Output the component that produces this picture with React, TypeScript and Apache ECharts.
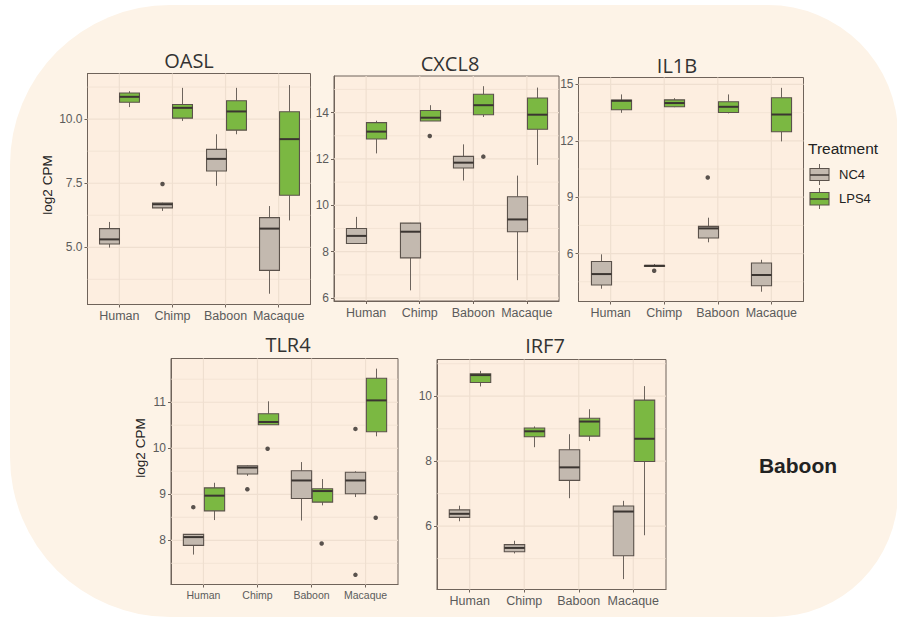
import React, { useEffect, useRef } from "react";
import * as echarts from "echarts";

// ---- categories, groups and labels ----
const categories = ["Human", "Chimp", "Baboon", "Macaque"];
const treatments = ["NC4", "LPS4"];
const genes = ["OASL", "CXCL8", "IL1B", "TLR4", "IRF7"];

// ---- box statistics: [lower whisker, Q1, median, Q3, upper whisker] per species ----
const oaslNc4 = [
  [4.99, 5.13, 5.31, 5.73, 5.99],
  [6.42, 6.54, 6.68, 6.73, 6.74],
  [7.4, 7.98, 8.45, 8.82, 9.41],
  [3.19, 4.1, 5.73, 6.16, 6.61],
];
const oaslLps4 = [
  [10.47, 10.66, 10.87, 11.02, 11.09],
  [9.93, 10.04, 10.44, 10.57, 11.22],
  [9.41, 9.57, 10.3, 10.72, 11.22],
  [6.05, 7.03, 9.22, 10.29, 11.33],
];
const oaslNc4Out = [[1, 7.47]];
const oaslLps4Out: number[][] = [];

const cxcl8Nc4 = [
  [8.35, 8.35, 8.68, 9.0, 9.5],
  [6.33, 7.73, 8.86, 9.23, 9.24],
  [11.07, 11.61, 11.84, 12.11, 12.63],
  [6.77, 8.86, 9.39, 10.37, 11.28],
];
const cxcl8Lps4 = [
  [12.24, 12.86, 13.18, 13.57, 13.65],
  [13.64, 13.64, 13.78, 14.09, 14.32],
  [13.81, 13.91, 14.32, 14.79, 15.14],
  [11.74, 13.28, 13.91, 14.63, 15.08],
];
const cxcl8Nc4Out: number[][] = [];
const cxcl8Lps4Out = [
  [1, 12.99],
  [2, 12.1],
];

const il1bNc4 = [
  [4.13, 4.33, 4.91, 5.58, 5.96],
  [5.32, 5.32, 5.35, 5.37, 5.44],
  [6.6, 6.83, 7.34, 7.45, 7.91],
  [3.97, 4.29, 4.86, 5.5, 5.67],
];
const il1bLps4 = [
  [13.49, 13.65, 14.13, 14.17, 14.47],
  [13.79, 13.81, 14.01, 14.18, 14.27],
  [13.46, 13.51, 13.81, 14.08, 14.47],
  [11.97, 12.48, 13.4, 14.29, 14.82],
];
const il1bNc4Out = [
  [1, 5.09],
  [2, 10.05],
];
const il1bLps4Out: number[][] = [];

const tlr4Nc4 = [
  [7.69, 7.89, 8.07, 8.13, 8.13],
  [9.4, 9.44, 9.58, 9.62, 9.63],
  [8.43, 8.91, 9.3, 9.51, 9.7],
  [8.94, 9.01, 9.3, 9.48, 9.5],
];
const tlr4Lps4 = [
  [8.44, 8.64, 8.97, 9.14, 9.25],
  [10.51, 10.51, 10.57, 10.75, 11.02],
  [8.76, 8.83, 9.07, 9.12, 9.33],
  [10.26, 10.36, 11.04, 11.52, 11.73],
];
const tlr4Nc4Out = [
  [0, 8.72],
  [1, 9.11],
  [3, 10.42],
  [3, 7.25],
];
const tlr4Lps4Out = [
  [1, 9.99],
  [2, 7.93],
  [3, 8.49],
];

const irf7Nc4 = [
  [6.15, 6.27, 6.38, 6.5, 6.63],
  [5.16, 5.21, 5.33, 5.43, 5.55],
  [6.86, 7.41, 7.81, 8.35, 8.83],
  [4.37, 5.09, 6.45, 6.62, 6.78],
];
const irf7Lps4 = [
  [10.3, 10.42, 10.65, 10.69, 10.78],
  [8.43, 8.75, 8.92, 9.02, 9.07],
  [8.62, 8.77, 9.22, 9.32, 9.6],
  [5.72, 7.99, 8.69, 9.88, 10.31],
];
const irf7Nc4Out: number[][] = [];
const irf7Lps4Out: number[][] = [];

// ---- y axis ticks (labelled) and minor breaks ----
const oaslTicks = [5, 7.5, 10];
const oaslMinor = [3.75, 6.25, 8.75, 11.25];
const cxcl8Ticks = [6, 8, 10, 12, 14];
const cxcl8Minor = [7, 9, 11, 13, 15];
const il1bTicks = [6, 9, 12, 15];
const il1bMinor = [4.5, 7.5, 10.5, 13.5];
const tlr4Ticks = [8, 9, 10, 11];
const tlr4Minor = [7.5, 8.5, 9.5, 10.5, 11.5];
const irf7Ticks = [6, 8, 10];
const irf7Minor = [5, 7, 9, 11];

// ---- y axis limits ----
const oaslRange = [2.77, 11.78];
const cxcl8Range = [5.87, 15.58];
const il1bRange = [3.45, 15.37];
const tlr4Range = [7.04, 11.95];
const irf7Range = [4.05, 11.13];

type Panel = {
  nc4: number[][];
  lps4: number[][];
  nc4Out: number[][];
  lps4Out: number[][];
  ticks: number[];
  minor: number[];
  range: number[];
  decimals: number;
  // layout
  left: number;
  top: number;
  width: number;
  height: number;
  titleX: number;
  titleY: number;
  xFont: number;
  yName?: [number, number];
};

const panels: Panel[] = [
  { nc4: oaslNc4, lps4: oaslLps4, nc4Out: oaslNc4Out, lps4Out: oaslLps4Out, ticks: oaslTicks, minor: oaslMinor, range: oaslRange, decimals: 1,
    left: 87.5, top: 73.5, width: 223, height: 231, titleX: 189, titleY: 60, xFont: 12.5, yName: [47, 185] },
  { nc4: cxcl8Nc4, lps4: cxcl8Lps4, nc4Out: cxcl8Nc4Out, lps4Out: cxcl8Lps4Out, ticks: cxcl8Ticks, minor: cxcl8Minor, range: cxcl8Range, decimals: 0,
    left: 334, top: 76, width: 225, height: 225, titleX: 450, titleY: 63, xFont: 12.5 },
  { nc4: il1bNc4, lps4: il1bLps4, nc4Out: il1bNc4Out, lps4Out: il1bLps4Out, ticks: il1bTicks, minor: il1bMinor, range: il1bRange, decimals: 0,
    left: 578.5, top: 77.5, width: 225, height: 224, titleX: 677, titleY: 65, xFont: 12.5 },
  { nc4: tlr4Nc4, lps4: tlr4Lps4, nc4Out: tlr4Nc4Out, lps4Out: tlr4Lps4Out, ticks: tlr4Ticks, minor: tlr4Minor, range: tlr4Range, decimals: 0,
    left: 171, top: 358.5, width: 227, height: 226, titleX: 288, titleY: 344, xFont: 10.5, yName: [140, 448] },
  { nc4: irf7Nc4, lps4: irf7Lps4, nc4Out: irf7Nc4Out, lps4Out: irf7Lps4Out, ticks: irf7Ticks, minor: irf7Minor, range: irf7Range, decimals: 0,
    left: 437, top: 359.5, width: 229, height: 230, titleX: 545, titleY: 345, xFont: 12.5 },
];

const FILL = { NC4: "#c3b9af", LPS4: "#7bb842" };
const BOX_W = 0.375;
const DODGE = 0.1875;
const X_MIN = 0.4;
const X_MAX = 4.6;
const AXIS_COLOR = "#6f635a";
const GRID_COLOR = "#efdfd0";
const LABEL_FONT = "'Liberation Sans', Arial, sans-serif";
const TITLE_FONT = "'Open Sans', 'Noto Sans', sans-serif";

function boxRenderer(fill: string) {
  return (params: any, api: any) => {
    const x = api.value(0);
    const lo = api.coord([x, api.value(1)]);
    const q1 = api.coord([x, api.value(2)]);
    const med = api.coord([x, api.value(3)]);
    const q3 = api.coord([x, api.value(4)]);
    const hi = api.coord([x, api.value(5)]);
    const w = api.size([BOX_W, 0])[0];
    const cx = Math.round(lo[0]) + 0.5;
    const whisker = { stroke: "#6d645d", lineWidth: 1 };
    return {
      type: "group",
      children: [
        { type: "line", shape: { x1: cx, y1: hi[1], x2: cx, y2: q3[1] }, style: whisker },
        { type: "line", shape: { x1: cx, y1: q1[1], x2: cx, y2: lo[1] }, style: whisker },
        {
          type: "rect",
          shape: { x: cx - w / 2, y: q3[1], width: w, height: Math.max(q1[1] - q3[1], 1) },
          style: { fill, stroke: "#5b524b", lineWidth: 1.1 },
        },
        {
          type: "line",
          shape: { x1: cx - w / 2, y1: med[1], x2: cx + w / 2, y2: med[1] },
          style: { stroke: "#3b3531", lineWidth: 2 },
        },
      ],
    };
  };
}

// one datum per grid line: [orientation (0 = horizontal, 1 = vertical), value, weight]
function gridRenderer(range: number[]) {
  return (params: any, api: any) => {
    const dir = api.value(0);
    const v = api.value(1);
    const width = api.value(2);
    let a, b;
    if (dir === 0) {
      a = api.coord([X_MIN, v]);
      b = api.coord([X_MAX, v]);
    } else {
      a = api.coord([v, range[0]]);
      b = api.coord([v, range[1]]);
    }
    return {
      type: "line",
      shape: { x1: a[0], y1: a[1], x2: b[0], y2: b[1] },
      style: { stroke: GRID_COLOR, lineWidth: width },
    };
  };
}

function buildOption() {
  const grid: any[] = [];
  const xAxis: any[] = [];
  const yAxis: any[] = [];
  const series: any[] = [];
  const graphic: any[] = [];

  panels.forEach((p, k) => {
    grid.push({
      left: p.left,
      top: p.top,
      width: p.width,
      height: p.height,
      show: true,
      backgroundColor: "#fdeee0",
      borderColor: AXIS_COLOR,
      borderWidth: 1,
    });
    xAxis.push({
      gridIndex: k,
      type: "value",
      min: X_MIN,
      max: X_MAX,
      axisLine: { show: true, lineStyle: { color: AXIS_COLOR } },
      axisTick: { show: true, customValues: [1, 2, 3, 4], length: 3, lineStyle: { color: AXIS_COLOR } },
      axisLabel: {
        customValues: [1, 2, 3, 4],
        formatter: (v: number) => categories[Math.round(v) - 1],
        color: "#5b5b5b",
        fontSize: p.xFont,
        fontFamily: LABEL_FONT,
        margin: 5,
      },
      splitLine: { show: false },
    });
    yAxis.push({
      gridIndex: k,
      type: "value",
      min: p.range[0],
      max: p.range[1],
      axisLine: { show: true, lineStyle: { color: AXIS_COLOR } },
      axisTick: { show: true, customValues: p.ticks, length: 3, lineStyle: { color: AXIS_COLOR } },
      axisLabel: {
        customValues: p.ticks,
        formatter: (v: number) => v.toFixed(p.decimals),
        color: "#5b5b5b",
        fontSize: 12,
        fontFamily: LABEL_FONT,
        margin: 5,
      },
      splitLine: { show: false },
    });

    // panel grid lines (minor, major, category)
    series.push({
      type: "custom",
      name: "grid lines",
      xAxisIndex: k,
      yAxisIndex: k,
      z: 1,
      silent: true,
      renderItem: gridRenderer(p.range),
      data: [
        ...p.minor.map((v) => [0, v, 0.7]),
        ...p.ticks.map((v) => [0, v, 1.2]),
        ...[1, 2, 3, 4].map((v) => [1, v, 1.2]),
      ],
    });

    const groups = [
      { name: "NC4", stats: p.nc4, out: p.nc4Out, off: -DODGE },
      { name: "LPS4", stats: p.lps4, out: p.lps4Out, off: DODGE },
    ];
    groups.forEach((g) => {
      series.push({
        type: "custom",
        name: g.name,
        xAxisIndex: k,
        yAxisIndex: k,
        z: 3,
        renderItem: boxRenderer((FILL as any)[g.name]),
        encode: { x: 0, y: [1, 2, 3, 4, 5] },
        data: g.stats.map((s, i) => [i + 1 + g.off, ...s]),
      });
      series.push({
        type: "scatter",
        name: g.name + " outliers",
        xAxisIndex: k,
        yAxisIndex: k,
        z: 4,
        symbol: "circle",
        symbolSize: 4.5,
        itemStyle: { color: "#2f2b28" },
        data: g.out.map(([i, v]) => [i + 1 + g.off, v]),
      });
    });

    graphic.push({
      type: "text",
      x: p.titleX,
      y: p.titleY,
      style: {
        text: genes[k],
        fill: "#333",
        font: `20px ${TITLE_FONT}`,
        textAlign: "center",
        textVerticalAlign: "middle",
      },
    });
    if (p.yName) {
      graphic.push({
        type: "text",
        x: p.yName[0],
        y: p.yName[1],
        rotation: Math.PI / 2,
        style: {
          text: "log2 CPM",
          fill: "#222",
          font: `13.5px ${LABEL_FONT}`,
          textAlign: "center",
          textVerticalAlign: "middle",
        },
      });
    }
  });

  // legend
  graphic.push({
    type: "text",
    x: 808,
    y: 148,
    style: { text: "Treatment", fill: "#222", font: `15.5px ${LABEL_FONT}`, textAlign: "left", textVerticalAlign: "middle" },
  });
  const keys = [
    { name: treatments[0], top: 164, box: [168.5, 180.5], med: 175, bottom: 185 },
    { name: treatments[1], top: 188, box: [192.5, 205], med: 199, bottom: 209 },
  ];
  keys.forEach((key) => {
    graphic.push({
      type: "group",
      children: [
        { type: "line", shape: { x1: 819.5, y1: key.top, x2: 819.5, y2: key.bottom }, style: { stroke: "#6d645d", lineWidth: 1 } },
        {
          type: "rect",
          shape: { x: 810, y: key.box[0], width: 19, height: key.box[1] - key.box[0] },
          style: { fill: (FILL as any)[key.name], stroke: "#5b524b", lineWidth: 1.1 },
        },
        { type: "line", shape: { x1: 810, y1: key.med, x2: 829, y2: key.med }, style: { stroke: "#3b3531", lineWidth: 1.5 } },
      ],
    });
    graphic.push({
      type: "text",
      x: 839,
      y: (key.box[0] + key.box[1]) / 2,
      style: { text: key.name, fill: "#222", font: `13px ${LABEL_FONT}`, textAlign: "left", textVerticalAlign: "middle" },
    });
  });

  graphic.push({
    type: "text",
    x: 798,
    y: 465,
    style: { text: "Baboon", fill: "#222", font: `bold 21px ${LABEL_FONT}`, textAlign: "center", textVerticalAlign: "middle" },
  });

  return {
    animation: false,
    backgroundColor: "transparent",
    grid,
    xAxis,
    yAxis,
    series,
    graphic,
  };
}

export default function App() {
  const ref = useRef<HTMLDivElement>(null);

  useEffect(() => {
    document.body.style.margin = "0";
    if (!ref.current) return;
    const chart = echarts.init(ref.current, undefined, { renderer: "svg" });
    chart.setOption(buildOption());
    return () => chart.dispose();
  }, []);

  return (
    <div style={{ position: "relative", width: 897, height: 617, background: "#ffffff", overflow: "hidden" }}>
      <div
        style={{
          position: "absolute",
          left: 10,
          top: 5,
          width: 888,
          height: 612,
          background: "#fdf3e7",
          borderRadius: "160px 130px 125px 160px",
        }}
      />
      <div ref={ref} style={{ position: "absolute", left: 0, top: 0, width: 897, height: 617 }} />
    </div>
  );
}
